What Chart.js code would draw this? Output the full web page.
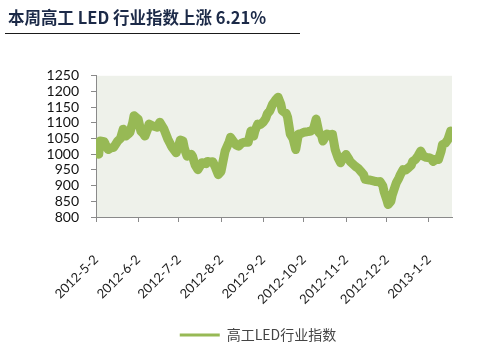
<!DOCTYPE html>
<html><head><meta charset="utf-8">
<script src="https://cdn.jsdelivr.net/npm/chart.js@4.4.1/dist/chart.umd.min.js"></script>
<style>html,body{margin:0;padding:0;background:#fff;}#wrap{width:504px;height:357px;}</style>
</head><body><div id="wrap"><canvas id="c" width="504" height="357"></canvas></div>
<script>
const titleText = '本周高工 LED 行业指数上涨 6.21%';
const seriesName = '高工LED行业指数';
const dates = ['2012-5-2','2012-5-4','2012-5-5','2012-5-8','2012-5-9','2012-5-11','2012-5-13','2012-5-15','2012-5-18','2012-5-20','2012-5-22','2012-5-24','2012-5-26','2012-5-27','2012-5-29','2012-5-30',
'2012-6-2','2012-6-4','2012-6-6','2012-6-7','2012-6-9','2012-6-10','2012-6-13','2012-6-16','2012-6-18','2012-6-21','2012-6-24','2012-6-26','2012-6-27','2012-6-30',
'2012-7-2','2012-7-3','2012-7-5','2012-7-6','2012-7-8','2012-7-11','2012-7-12','2012-7-14','2012-7-16','2012-7-18','2012-7-19','2012-7-22','2012-7-23','2012-7-25','2012-7-27','2012-7-29','2012-7-31',
'2012-8-2','2012-8-3','2012-8-5','2012-8-8','2012-8-9','2012-8-11','2012-8-13','2012-8-15','2012-8-17','2012-8-19','2012-8-22','2012-8-24','2012-8-26','2012-8-27','2012-8-29','2012-8-31',
'2012-9-2','2012-9-4','2012-9-5','2012-9-7','2012-9-9','2012-9-11','2012-9-13','2012-9-15','2012-9-16','2012-9-19','2012-9-20','2012-9-22','2012-9-24','2012-9-26','2012-9-28','2012-9-30',
'2012-10-2','2012-10-5','2012-10-7','2012-10-9','2012-10-11','2012-10-13','2012-10-15','2012-10-16','2012-10-19','2012-10-22','2012-10-23','2012-10-25','2012-10-27','2012-10-29','2012-10-31',
'2012-11-2','2012-11-4','2012-11-5','2012-11-8','2012-11-9','2012-11-11','2012-11-13','2012-11-15','2012-11-16','2012-11-19','2012-11-22','2012-11-24','2012-11-26','2012-11-27','2012-11-29','2012-11-30',
'2012-12-2','2012-12-3','2012-12-5','2012-12-6','2012-12-9','2012-12-11','2012-12-12','2012-12-14','2012-12-16','2012-12-18','2012-12-20','2012-12-21','2012-12-23','2012-12-25','2012-12-27','2012-12-29','2012-12-31',
'2013-1-2','2013-1-4','2013-1-5','2013-1-8','2013-1-9','2013-1-11','2013-1-12','2013-1-14','2013-1-16','2013-1-18','2013-1-19'];
const values = [1008,1000,1042,1040,1031,1015,1020,1022,1042,1050,1080,1058,1065,1070,1100,1123,
1112,1074,1065,1058,1080,1096,1090,1086,1102,1080,1047,1030,1022,1005,
1030,1045,1042,1020,994,1000,994,965,951,965,973,970,977,975,976,957,935,
945,967,1010,1040,1054,1042,1030,1026,1035,1038,1038,1074,1058,1075,1096,1095,
1102,1115,1128,1139,1160,1172,1182,1160,1139,1130,1118,1064,1050,1015,1064,1066,
1070,1072,1074,1080,1112,1070,1060,1042,1064,1060,1064,1015,990,973,990,
999,985,977,965,961,955,945,935,920,918,915,913,912,913,900,881,
855,840,850,870,909,925,935,951,950,957,965,977,983,995,1010,994,990,
989,985,977,985,983,1010,1031,1035,1047,1074,1068];
const tickLabels = ['2012-5-2','2012-6-2','2012-7-2','2012-8-2','2012-9-2','2012-10-2','2012-11-2','2012-12-2','2013-1-2'];
const yTicks = [800,850,900,950,1000,1050,1100,1150,1200,1250];

function dayNum(s){const p=s.split('-').map(Number);return Date.UTC(p[0],p[1]-1,p[2])/86400000;}
const base = dayNum(dates[0]);
const points = dates.map((d,i)=>({x:dayNum(d)-base,y:values[i]}));
const tickDays = tickLabels.map(t=>dayNum(t)-base);
const lineColor = '#97b955';
const axisColor = '#8a8a8a';

const decor = {
  id:'decor',
  beforeDraw(chart){
    const {ctx,chartArea:a}=chart;
    ctx.save();
    ctx.fillStyle='#eef1ea';
    ctx.fillRect(a.left,a.top,a.right-a.left,a.bottom-a.top);
    ctx.restore();
  },
  afterDraw(chart){
    const ctx=chart.ctx;
    ctx.save();
    ctx.strokeStyle='#1a1a1a';
    ctx.lineWidth=1.2;
    ctx.beginPath();ctx.moveTo(5,33.5);ctx.lineTo(300,33.5);ctx.stroke();
    ctx.restore();
  }
};

new Chart(document.getElementById('c'),{
  type:'line',
  data:{datasets:[{label:seriesName,data:points,borderColor:lineColor,backgroundColor:lineColor,borderWidth:9,pointRadius:0,tension:0,borderJoinStyle:'round',borderCapStyle:'round',fill:false}]},
  options:{
    responsive:false,animation:false,devicePixelRatio:1,
    layout:{padding:{left:8,right:-4,top:0,bottom:5}},
    plugins:{
      title:{display:true,text:titleText,align:'start',color:'#1c2a48',font:{family:'"Noto Sans CJK SC"',weight:'bold',size:16.5,lineHeight:1.2},padding:{top:8,bottom:48}},
      legend:{position:'bottom',labels:{boxWidth:40,boxHeight:3,padding:10,color:'#444',font:{family:'"Noto Sans CJK SC"',size:14},
        generateLabels:()=>[{text:seriesName,fillStyle:lineColor,strokeStyle:lineColor,lineWidth:0,hidden:false,datasetIndex:0,fontColor:'#444'}]}},
      tooltip:{enabled:false}
    },
    scales:{
      x:{type:'linear',min:0,max:points[points.length-1].x,
        afterBuildTicks:s=>{s.ticks=tickDays.map(v=>({value:v}));},
        afterFit:s=>{s.height=101;},
        ticks:{autoSkip:false,minRotation:45,maxRotation:45,padding:30,color:'#222',font:{family:'Lato',size:13},
          callback:v=>{const i=tickDays.indexOf(v);return i>=0?tickLabels[i]:'';}},
        grid:{display:true,drawOnChartArea:false,drawTicks:true,tickLength:5,color:axisColor},
        border:{display:true,color:axisColor,width:1}},
      y:{min:800,max:1250,
        afterBuildTicks:s=>{s.ticks=yTicks.map(v=>({value:v}));},
        afterFit:s=>{s.width=88;},
        ticks:{autoSkip:false,padding:12,color:'#111',font:{family:'Lato',size:14},callback:v=>String(v)},
        grid:{display:true,drawOnChartArea:false,drawTicks:true,tickLength:5,color:axisColor},
        border:{display:true,color:axisColor,width:1}},
      y2:{position:'right',display:true,min:0,max:1,
        afterFit:s=>{s.width=56;},
        ticks:{display:false},grid:{display:false},border:{display:false}}
    }
  },
  plugins:[decor]
});
</script></body></html>
